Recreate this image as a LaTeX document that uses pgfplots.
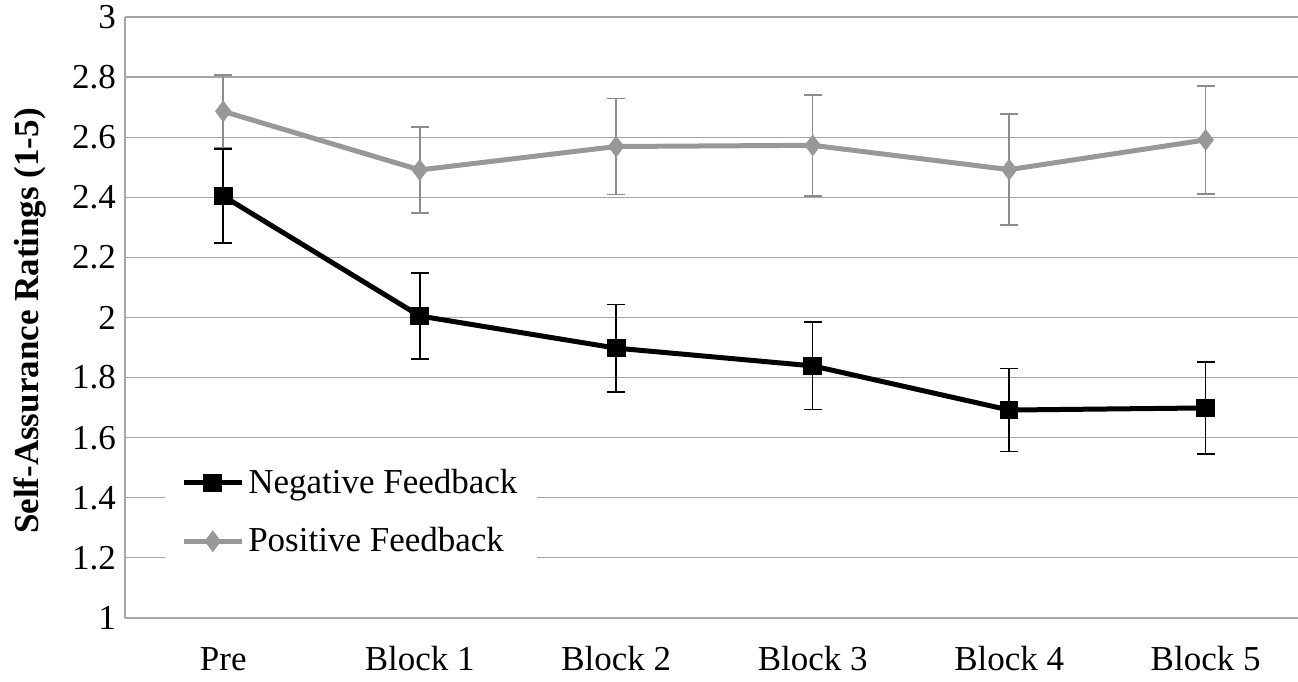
\documentclass[border=0pt]{standalone}
\usepackage{pgfplots}
\pgfplotsset{compat=1.18}
\usepackage{fontspec}
\setmainfont{Liberation Serif}
\definecolor{posgray}{RGB}{152,152,152}
\definecolor{errgray}{RGB}{140,140,140}
\definecolor{gridgray}{RGB}{165,165,165}
\begin{document}
\begin{tikzpicture}
\begin{axis}[
  name=ax,
  scale only axis,
  width=586.5pt, height=300.5pt,
  xmin=-0.5, xmax=5.47,
  ymin=1, ymax=3,
  ytick={1,1.2,...,3.01},
  xtick={0,1,2,3,4,5},
  xticklabels={Pre,Block 1,Block 2,Block 3,Block 4,Block 5},
  axis x line*=bottom, axis y line*=left,
  axis line style={gridgray, line width=0.6pt},
  ymajorgrids, major grid style={gridgray, line width=0.6pt},
  major tick length=0pt,
  /pgf/number format/assume math mode=true,
  yticklabel style={font=\fontsize{17.5}{20}\selectfont, /pgf/number format/fixed, /pgf/number format/precision=1, xshift=-1pt},
  xticklabel style={font=\fontsize{17.5}{20}\selectfont, anchor=base, yshift=-26.5pt},
  ylabel={\textbf{Self-Assurance Ratings (1-5)}},
  every axis y label/.style={at={(axis description cs:-0.081,0.494)}, rotate=90, anchor=center, font=\fontsize{17.5}{20}\selectfont},
  clip=false,
  legend style={at={(0.034,0.268)}, anchor=north west, draw=none, fill=white,
    font=\fontsize{17.5}{20}\selectfont, inner xsep=8pt, inner ysep=4pt,
    row sep=11.5pt, cells={anchor=west}},
  legend image code/.code={%
    \draw[mark repeat=2,mark phase=2] plot coordinates {(0pt,0pt)(14.5pt,0pt)(29pt,0pt)};},
]
\addplot[black, line width=2.5pt, mark=square*, mark size=3.4pt,
  error bars/.cd, y dir=both, y explicit,
  error bar style={black, line width=0.8pt},
  error mark options={rotate=90, mark size=4.5pt, black, line width=0.8pt}]
  coordinates {
  (0,2.404) +- (0,0.156)
  (1,2.005) +- (0,0.143)
  (2,1.898) +- (0,0.145)
  (3,1.839) +- (0,0.145)
  (4,1.692) +- (0,0.138)
  (5,1.699) +- (0,0.153)
};
\addlegendentry{Negative Feedback}
\addplot[posgray, line width=2.5pt, mark=diamond*, mark size=3.4pt,
  error bars/.cd, y dir=both, y explicit,
  error bar style={errgray, line width=0.8pt},
  error mark options={rotate=90, mark size=4.5pt, errgray, line width=0.8pt}]
  coordinates {
  (0,2.686) +- (0,0.12)
  (1,2.491) +- (0,0.143)
  (2,2.569) +- (0,0.160)
  (3,2.573) +- (0,0.168)
  (4,2.492) +- (0,0.185)
  (5,2.591) +- (0,0.180)
};
\addlegendentry{Positive Feedback}
\end{axis}
\pgfresetboundingbox
\path[use as bounding box] ([shift={(-62.5pt,-32pt)}]ax.south west) rectangle ([shift={(0pt,8.5pt)}]ax.north east);
\end{tikzpicture}
\end{document}
